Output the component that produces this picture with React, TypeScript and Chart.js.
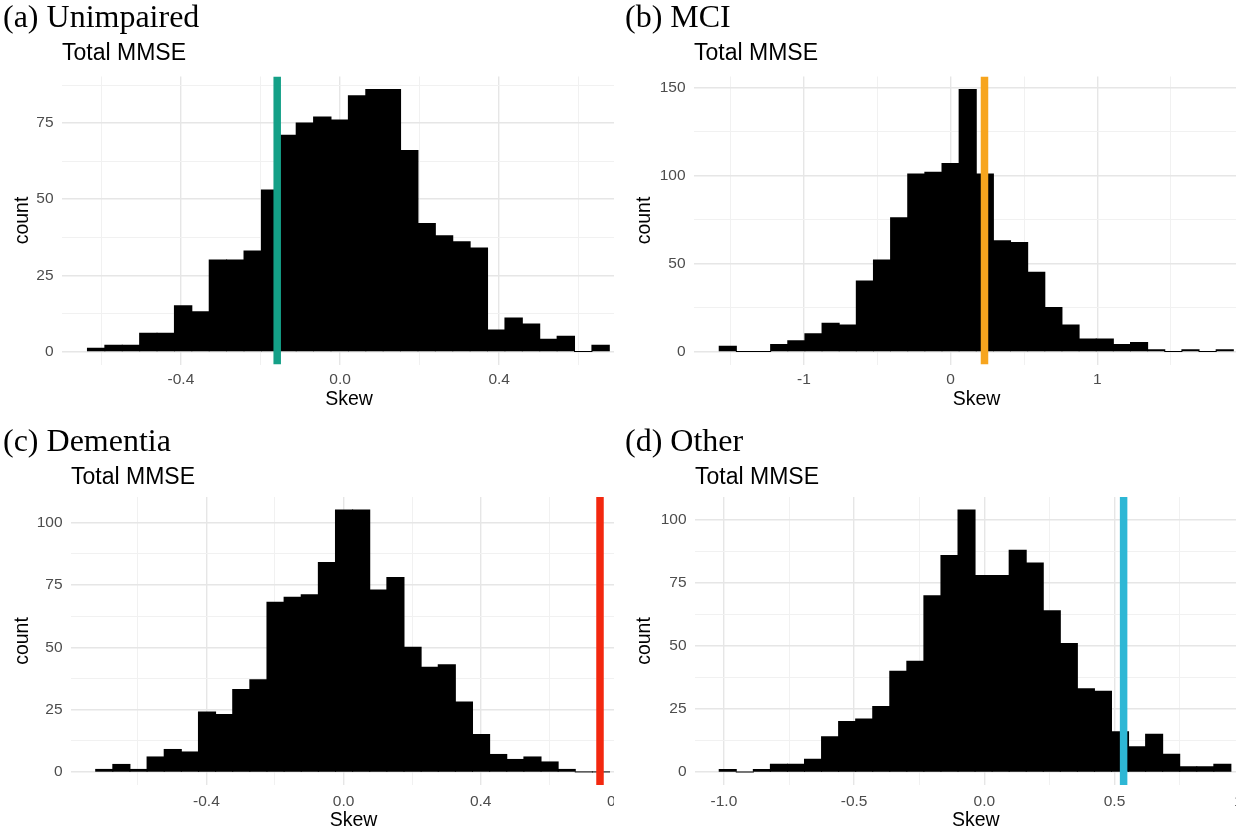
import React, { useEffect, useRef } from 'react';
import { Chart, registerables } from 'chart.js';

Chart.register(...registerables);

// ---------- data ----------
const panelLabels = ['(a) Unimpaired', '(b) MCI', '(c) Dementia', '(d) Other'];
const subtitleText = 'Total MMSE';
const xAxisTitle = 'Skew';
const yAxisTitle = 'count';

// histogram counts (30 bins each)
const unimpairedCounts = [1, 2, 2, 6, 6, 15, 13, 30, 30, 33, 53, 71, 75, 77, 76, 84, 86, 86, 66, 42, 38, 36, 34, 7, 11, 9, 4, 5, 0, 2];
const mciCounts = [3, 0, 0, 4, 6, 10, 16, 15, 40, 52, 76, 101, 102, 107, 149, 101, 63, 62, 45, 25, 15, 7, 7, 4, 5, 1, 0, 1, 0, 1];
const dementiaCounts = [1, 3, 1, 6, 9, 8, 24, 23, 33, 37, 68, 70, 71, 84, 105, 105, 73, 78, 50, 42, 43, 28, 15, 7, 5, 6, 4, 1, 0, 0];
const otherCounts = [1, 0, 1, 3, 3, 5, 14, 20, 21, 26, 40, 44, 70, 86, 104, 78, 78, 88, 83, 64, 51, 33, 32, 16, 10, 15, 7, 2, 2, 3];

// bin geometry: [first bin left edge, bin width]
const unimpairedBins = [-0.635, 0.04373];
const mciBins = [-1.578, 0.11683];
const dementiaBins = [-0.723, 0.04996];
const otherBins = [-1.018, 0.0655];

// observed skew (vertical line)
const unimpairedSkew = -0.158;
const mciSkew = 0.2305;
const dementiaSkew = 0.748;
const otherSkew = 0.535;

// visible x-axis ranges
const unimpairedXRange = [-0.699, 0.744];
const mciXRange = [-1.750, 2.102];
const dementiaXRange = [-0.795, 0.853];
const otherXRange = [-1.111, 1.046];

const lineColors = ['#14a087', '#f7a51e', '#f3280f', '#2eb7d5'];

// ---------- panel component ----------
type Spec = {
  label: string;
  counts: number[];
  bins: number[];
  skew: number;
  xRange: number[];
  xStep: number;
  xMajor: (v: number) => boolean;
  xFmt: (v: number) => string;
  yStep: number;
  yMajorStep: number;
  color: string;
  box: { left: number; top: number; w: number; h: number };
  canvasW: number;
  canvasH: number;
  padLeft: number;
  padTop: number;
  yW: number;
  xH: number;
  subPt: number;
  subPb: number;
  xTickPad: number;
  xTitlePb: number;
};

const SANS = 'Liberation Sans';
const MAJOR_GRID = '#e6e6e6';
const MINOR_GRID = '#f1f1f1';

function Panel({ spec }: { spec: Spec }) {
  const ref = useRef<HTMLCanvasElement | null>(null);
  useEffect(() => {
    if (!ref.current) return;
    const s = spec;
    const peak = Math.max(...s.counts);
    const yMax = peak * 1.05;
    const yMin = -peak * 0.05;
    const barData = s.counts.map((c, i) => ({ x: s.bins[0] + s.bins[1] * (i + 0.5), y: c }));
    const isYMajor = (v: number) => Math.abs(v / s.yMajorStep - Math.round(v / s.yMajorStep)) < 1e-6;
    const chart = new Chart(ref.current, {
      type: 'bar',
      data: {
        datasets: [
          {
            type: 'line',
            data: [
              { x: s.skew, y: yMin },
              { x: s.skew, y: yMax },
            ],
            borderColor: s.color,
            backgroundColor: s.color,
            borderWidth: 7.5,
            borderCapStyle: 'butt',
            pointRadius: 0,
            order: 0,
          } as any,
          {
            type: 'bar',
            data: barData,
            backgroundColor: '#000000',
            borderWidth: 0,
            barPercentage: 1,
            categoryPercentage: 1,
            inflateAmount: 0.5,
            order: 1,
          } as any,
        ],
      },
      options: {
        responsive: false,
        animation: false,
        devicePixelRatio: 1,
        layout: { padding: { left: s.padLeft, top: s.padTop, right: 4, bottom: 0 } },
        plugins: {
          legend: { display: false },
          tooltip: { enabled: false },
          title: {
            display: true,
            text: s.label,
            align: 'start',
            color: '#000',
            font: { family: 'Liberation Serif', size: 32, weight: 'normal', lineHeight: 1 },
            padding: { top: 0, bottom: 0 },
          },
          subtitle: {
            display: true,
            text: subtitleText,
            align: 'start',
            fullSize: false,
            color: '#000',
            font: { family: SANS, size: 23, weight: 'normal', lineHeight: 1.2 },
            padding: { top: s.subPt, bottom: s.subPb },
          },
        },
        scales: {
          x: {
            type: 'linear',
            min: s.xRange[0],
            max: s.xRange[1],
            offset: false,
            border: { display: false },
            grid: {
              offset: false,
              drawTicks: false,
              color: (ctx: any) => (s.xMajor(ctx.tick.value) ? MAJOR_GRID : MINOR_GRID),
              lineWidth: (ctx: any) => (s.xMajor(ctx.tick.value) ? 1.4 : 1),
            },
            ticks: {
              stepSize: s.xStep,
              includeBounds: false,
              autoSkip: false,
              maxRotation: 0,
              padding: s.xTickPad,
              color: '#4d4d4d',
              font: { family: SANS, size: 15.5, lineHeight: 1.2 },
              callback: (v: any) => (s.xMajor(Number(v)) ? s.xFmt(Number(v)) : ''),
            },
            title: {
              display: true,
              text: xAxisTitle,
              color: '#000',
              font: { family: SANS, size: 19.5, lineHeight: 1.2 },
              padding: { top: 0, bottom: s.xTitlePb },
            },
            afterFit: (scale: any) => {
              scale.height = s.xH;
            },
          },
          y: {
            type: 'linear',
            min: yMin,
            max: yMax,
            border: { display: false },
            grid: {
              drawTicks: false,
              color: (ctx: any) => (isYMajor(ctx.tick.value) ? MAJOR_GRID : MINOR_GRID),
              lineWidth: (ctx: any) => (isYMajor(ctx.tick.value) ? 1.4 : 1),
            },
            ticks: {
              stepSize: s.yStep,
              includeBounds: false,
              padding: 8.5,
              color: '#4d4d4d',
              font: { family: SANS, size: 15.5, lineHeight: 1.2 },
              callback: (v: any) => (isYMajor(Number(v)) ? String(Math.round(Number(v))) : ''),
            },
            title: {
              display: true,
              text: yAxisTitle,
              color: '#000',
              font: { family: SANS, size: 19.5, lineHeight: 1.2 },
              padding: { top: 8, bottom: 0 },
            },
            afterFit: (scale: any) => {
              scale.width = s.yW;
            },
          },
        },
      } as any,
    });
    return () => chart.destroy();
  }, [spec]);

  return (
    <div
      style={{
        position: 'absolute',
        left: spec.box.left,
        top: spec.box.top,
        width: spec.box.w,
        height: spec.box.h,
        overflow: 'hidden',
      }}
    >
      <canvas
        ref={ref}
        width={spec.canvasW}
        height={spec.canvasH}
        style={{ display: 'block', width: spec.canvasW, height: spec.canvasH }}
      />
    </div>
  );
}

const tenths = (v: number) => Math.round(v * 10);

const specs: Spec[] = [
  {
    label: panelLabels[0],
    counts: unimpairedCounts,
    bins: unimpairedBins,
    skew: unimpairedSkew,
    xRange: unimpairedXRange,
    xStep: 0.2,
    xMajor: (v) => tenths(v) % 4 === 0,
    xFmt: (v) => (Math.abs(v) < 1e-9 ? 0 : v).toFixed(1),
    yStep: 12.5,
    yMajorStep: 25,
    color: lineColors[0],
    box: { left: 0, top: 0, w: 614, h: 420 },
    canvasW: 640,
    canvasH: 420,
    padLeft: 3,
    padTop: 2.5,
    yW: 59,
    xH: 55.5,
    subPt: 5.7,
    subPb: 8.7,
    xTickPad: 6.2,
    xTitlePb: 8.3,
  },
  {
    label: panelLabels[1],
    counts: mciCounts,
    bins: mciBins,
    skew: mciSkew,
    xRange: mciXRange,
    xStep: 0.5,
    xMajor: (v) => tenths(v) % 10 === 0,
    xFmt: (v) => String(Math.round(v)),
    yStep: 25,
    yMajorStep: 50,
    color: lineColors[1],
    box: { left: 617, top: 0, w: 619, h: 420 },
    canvasW: 646,
    canvasH: 420,
    padLeft: 8,
    padTop: 2.5,
    yW: 69,
    xH: 55.5,
    subPt: 5.7,
    subPb: 8.7,
    xTickPad: 6.2,
    xTitlePb: 8.3,
  },
  {
    label: panelLabels[2],
    counts: dementiaCounts,
    bins: dementiaBins,
    skew: dementiaSkew,
    xRange: dementiaXRange,
    xStep: 0.2,
    xMajor: (v) => tenths(v) % 4 === 0,
    xFmt: (v) => (Math.abs(v) < 1e-9 ? 0 : v).toFixed(1),
    yStep: 12.5,
    yMajorStep: 25,
    color: lineColors[2],
    box: { left: 0, top: 420, w: 614, h: 412 },
    canvasW: 640,
    canvasH: 412,
    padLeft: 3,
    padTop: 7,
    yW: 68,
    xH: 47,
    subPt: 5,
    subPb: 5.4,
    xTickPad: 7.4,
    xTitlePb: 0,
  },
  {
    label: panelLabels[3],
    counts: otherCounts,
    bins: otherBins,
    skew: otherSkew,
    xRange: otherXRange,
    xStep: 0.25,
    xMajor: (v) => Math.round(v * 100) % 50 === 0,
    xFmt: (v) => (Math.abs(v) < 1e-9 ? 0 : v).toFixed(1),
    yStep: 12.5,
    yMajorStep: 25,
    color: lineColors[3],
    box: { left: 617, top: 420, w: 619, h: 412 },
    canvasW: 646,
    canvasH: 412,
    padLeft: 8,
    padTop: 7,
    yW: 70,
    xH: 47,
    subPt: 5,
    subPb: 5.4,
    xTickPad: 7.4,
    xTitlePb: 0,
  },
];

export default function App() {
  return (
    <div
      style={{
        position: 'absolute',
        left: 0,
        top: 0,
        width: 1236,
        height: 832,
        background: '#ffffff',
        overflow: 'hidden',
      }}
    >
      {specs.map((s) => (
        <Panel key={s.label} spec={s} />
      ))}
    </div>
  );
}
